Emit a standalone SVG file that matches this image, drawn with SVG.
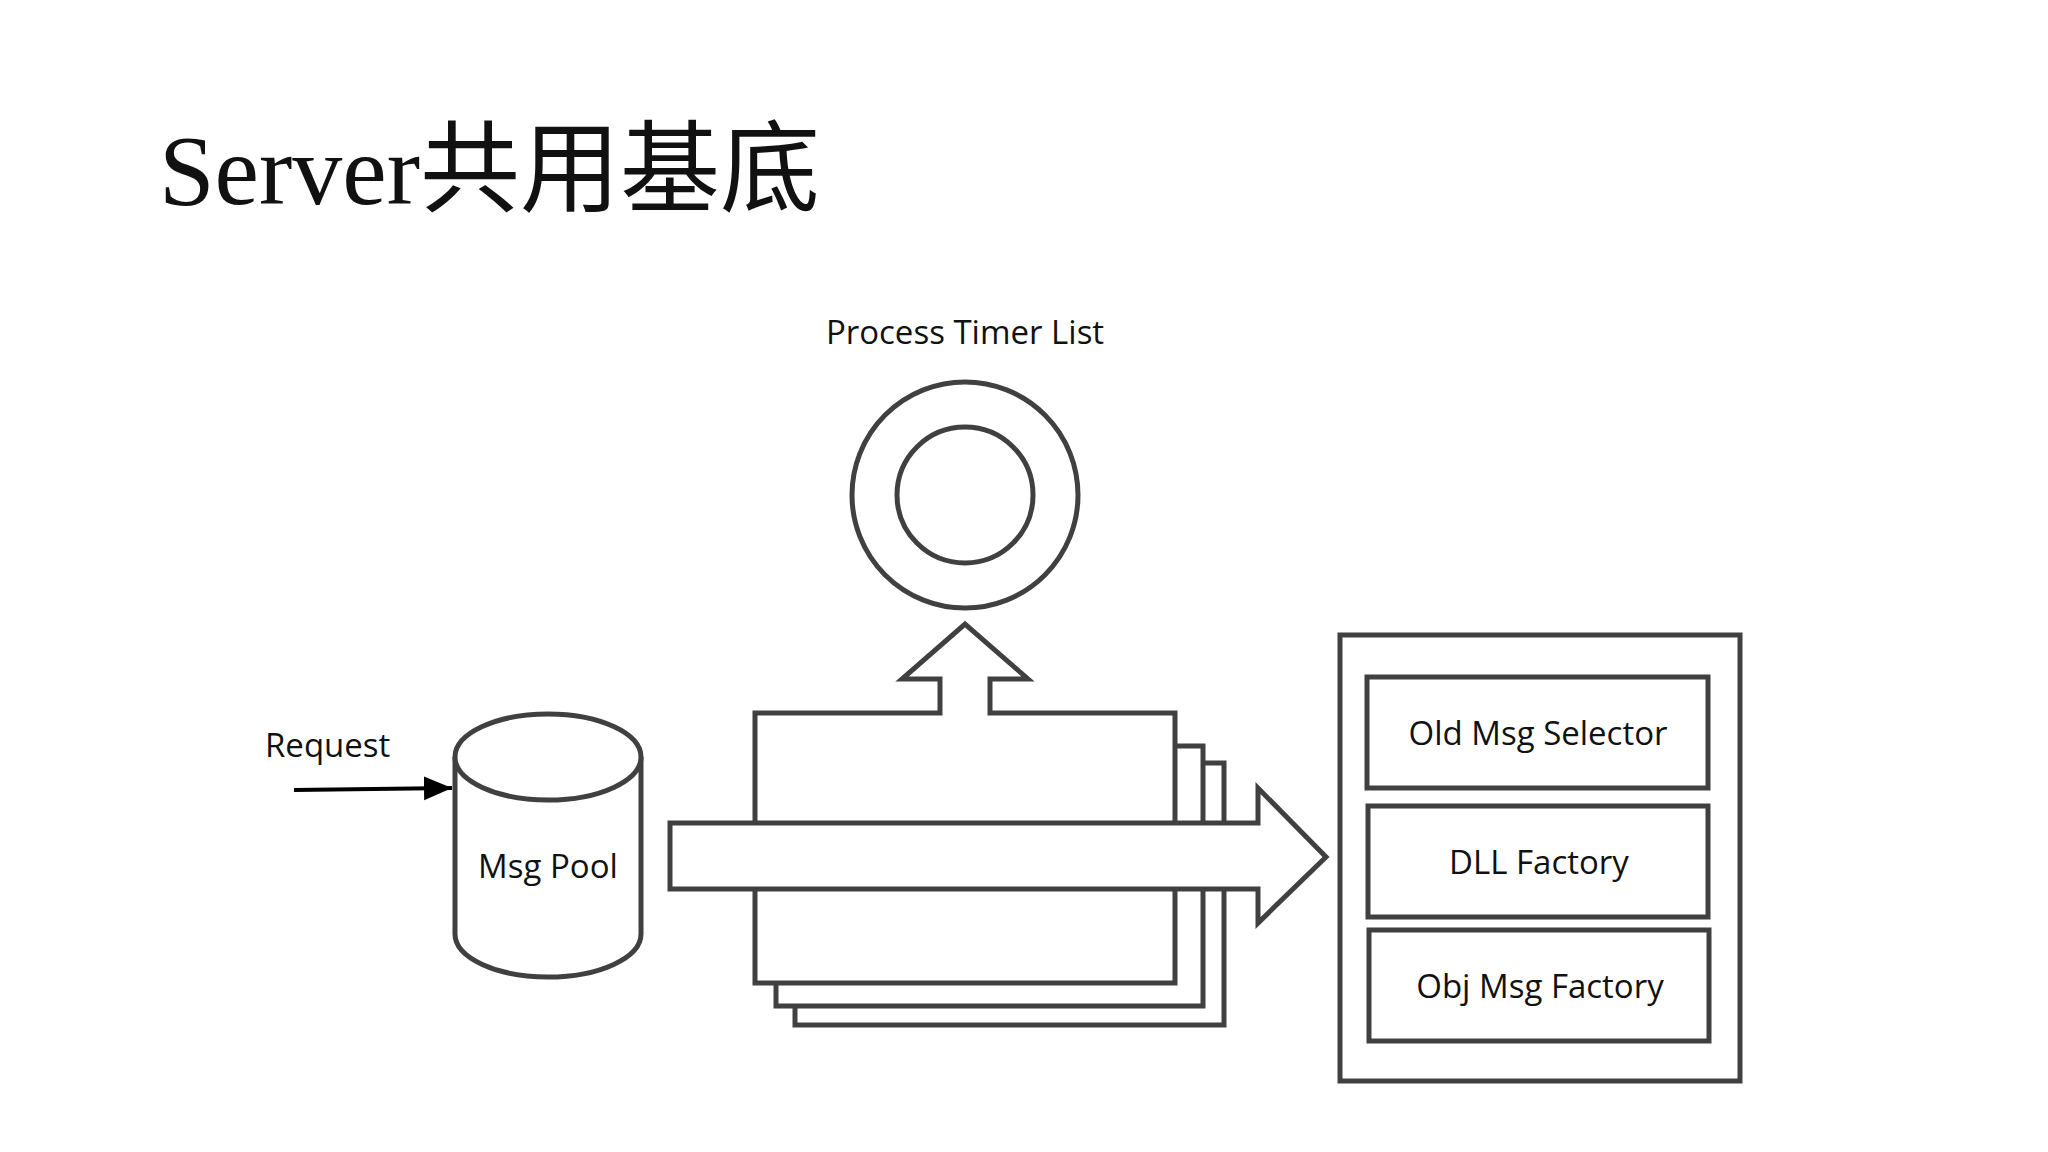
<svg xmlns="http://www.w3.org/2000/svg" width="2048" height="1152" viewBox="0 0 2048 1152">
<style>
.s{fill:#fff;stroke:#404040;stroke-width:5}
.t{font-family:"Open Sans","Noto Sans","Liberation Sans",sans-serif;font-size:33px;fill:#111;text-anchor:middle}
</style>
<defs><marker id="ah" markerWidth="8" markerHeight="8" refX="7" refY="4" orient="auto" markerUnits="strokeWidth"><path d="M0,1 L7,4 L0,7 z" fill="#000"/></marker></defs>
<rect width="2048" height="1152" fill="#fff"/>
<text x="159" y="204" font-family="'Liberation Serif','Noto Sans CJK SC',serif" font-size="100" fill="#111">Server共用基底</text>
<g id="timer">
<text class="t" x="965" y="344">Process Timer List</text>
<circle class="s" cx="965" cy="495" r="113"/>
<circle class="s" cx="965" cy="495" r="68"/>
</g>
<g id="stack">
<rect class="s" x="795" y="763" width="429" height="262"/>
<rect class="s" x="776" y="746" width="427" height="260"/>
<path class="s" d="M755,713 H940 V679 H902 L965,624 L1028,679 H990 V713 H1175 V983 H755 Z"/>
</g>
<g id="msgpool">
<path class="s" d="M455,757 V934 A93,43 0 0 0 641,934 V757"/>
<ellipse class="s" cx="548" cy="757" rx="93" ry="43"/>
<text class="t" x="548" y="878">Msg Pool</text>
</g>
<g id="connectors">
<path class="s" d="M670,823 H1258 V788 L1326,857 L1258,923 V889 H670 Z"/>
<text x="265" y="757" font-family="'Open Sans','Noto Sans',sans-serif" font-size="33" fill="#111">Request</text>
<line x1="294" y1="790" x2="452" y2="788" stroke="#000" stroke-width="4" marker-end="url(#ah)"/>
</g>
<g id="container">
<rect class="s" x="1340" y="635" width="400" height="446"/>
<g id="n1"><rect class="s" x="1367" y="677" width="341" height="111"/><text class="t" x="1538" y="745">Old Msg Selector</text></g>
<g id="n2"><rect class="s" x="1368" y="806" width="340" height="111"/><text class="t" x="1539" y="874">DLL Factory</text></g>
<g id="n3"><rect class="s" x="1369" y="930" width="340" height="111"/><text class="t" x="1540" y="998">Obj Msg Factory</text></g>
</g>
</svg>
